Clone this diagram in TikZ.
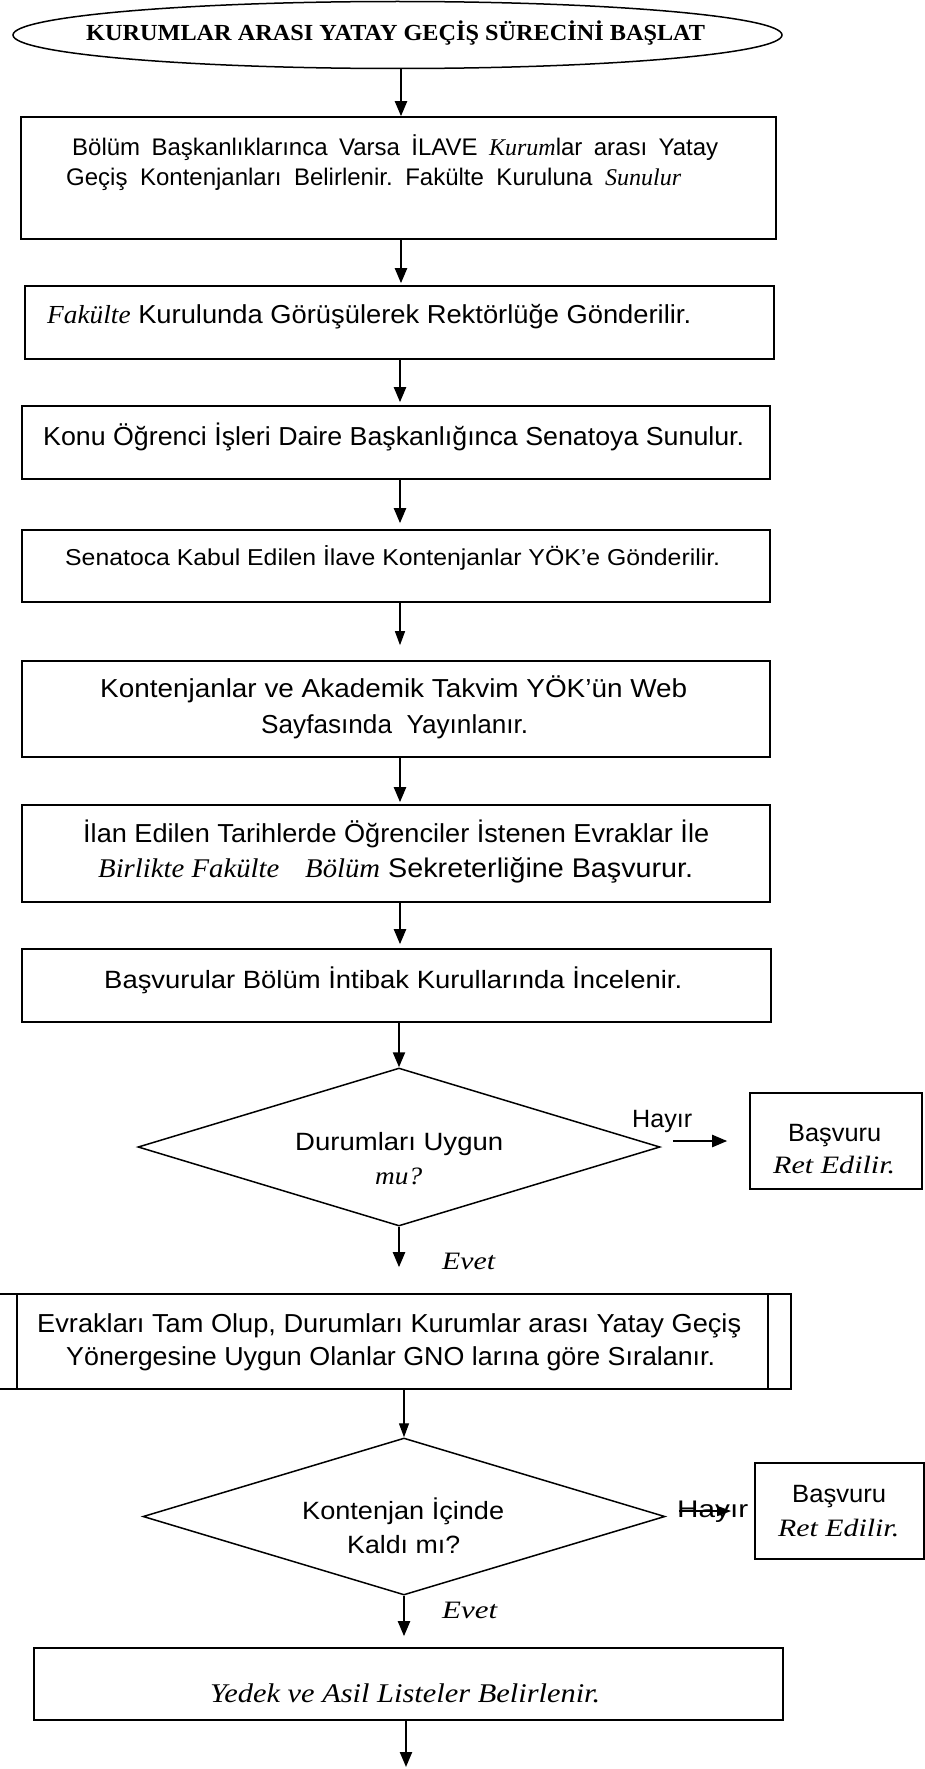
\documentclass[tikz,border=0pt]{standalone}
\usepackage{fontspec}
\setmainfont{Liberation Sans}
\newfontfamily\tnr{Liberation Serif}
\usepackage{graphicx}
\usetikzlibrary{shapes.geometric,arrows.meta}
\newcommand\hfit[3]{\resizebox{#1}{\height}{\fontsize{#2}{#2}\selectfont #3}}
\newcommand\ti[1]{{\tnr\itshape #1}}
\frenchspacing
\begin{document}
\begin{tikzpicture}[x=1pt,y=-1pt,
  box/.style={draw,line width=1.6pt,inner sep=0pt},
  ell/.style={draw,ellipse,line width=1.5pt,inner sep=0pt},
  dia/.style={draw,diamond,line width=1.5pt,inner sep=0pt},
  txt/.style={inner sep=0pt,anchor=base west},
  arr/.style={-{Triangle[length=15pt,width=12pt]},line width=2.2pt},
  tarr/.style={-{Triangle[length=14pt,width=10pt]},line width=1.3pt}]
\useasboundingbox (0,0) rectangle (925,1769);

\coordinate (colA) at (401,0);
\coordinate (colB) at (400,0);
\coordinate (fin) at (406,1767);

% start
\node[ell,minimum width=769pt,minimum height=67pt] (start) at (397.5,35) {};
\node[txt] (tstart) at (86,41) {\hfit{619pt}{23}{\tnr\bfseries KURUMLAR ARASI YATAY GEÇİŞ SÜRECİNİ BAŞLAT}};

% box 1
\node[box,minimum width=755pt,minimum height=122pt] (b1) at (398.5,178) {};
\node[txt] (t1a) at (72,155) {\fontsize{24}{24}\selectfont\makebox[646pt][s]{Bölüm Başkanlıklarınca Varsa İLAVE \ti{Kurum}lar arası Yatay}};
\node[txt] (t1b) at (66,185) {\fontsize{24}{24}\selectfont\makebox[615pt][s]{Geçiş Kontenjanları Belirlenir. Fakülte Kuruluna \ti{Sunulur}}};

% box 2
\node[box,minimum width=749pt,minimum height=73pt] (b2) at (399.5,322.5) {};
\node[txt] (t2) at (47,323) {\hfit{644pt}{26}{\ti{Fakülte} Kurulunda Görüşülerek Rektörlüğe Gönderilir.}};

% box 3
\node[box,minimum width=748pt,minimum height=73pt] (b3) at (396,442.5) {};
\node[txt] (t3) at (43,445) {\hfit{701pt}{26}{Konu Öğrenci İşleri Daire Başkanlığınca Senatoya Sunulur.}};

% box 4
\node[box,minimum width=748pt,minimum height=72pt] (b4) at (396,566) {};
\node[txt] (t4) at (65,565) {\hfit{655pt}{23}{Senatoca Kabul Edilen İlave Kontenjanlar YÖK’e Gönderilir.}};

% box 5
\node[box,minimum width=748pt,minimum height=96pt] (b5) at (396,709) {};
\node[txt] (t5a) at (100,697) {\hfit{587pt}{26}{Kontenjanlar ve Akademik Takvim YÖK’ün Web}};
\node[txt] (t5b) at (261,733) {\hfit{267pt}{26}{Sayfasında\ \ Yayınlanır.}};

% box 6
\node[box,minimum width=748pt,minimum height=97pt] (b6) at (396,853.5) {};
\node[txt] (t6a) at (83,842) {\hfit{626pt}{26}{İlan Edilen Tarihlerde Öğrenciler İstenen Evraklar İle}};
\node[txt] (t6b) at (98,877) {\hfit{595pt}{27}{\ti{Birlikte Fakülte}\hspace{0.9em}\ti{Bölüm} Sekreterliğine Başvurur.}};

% box 7
\node[box,minimum width=749pt,minimum height=73pt] (b7) at (396.5,985.5) {};
\node[txt] (t7) at (104,988) {\hfit{578pt}{25}{Başvurular Bölüm İntibak Kurullarında İncelenir.}};

% decision 1
\node[dia,minimum width=522pt,minimum height=158pt] (d1) at (399,1147) {};
\node[txt] (td1a) at (295,1150) {\hfit{208pt}{25}{Durumları Uygun}};
\node[txt] (td1b) at (375,1184) {\hfit{47pt}{25}{\ti{mu?}}};
\node[txt] (h1) at (632,1127) {\hfit{60pt}{25}{Hayır}};
\node[box,minimum width=172pt,minimum height=96pt] (r1) at (836,1141) {};
\node[txt] (r1a) at (788,1141) {\hfit{93pt}{25}{Başvuru}};
\node[txt] (r1b) at (773,1173) {\hfit{122pt}{25}{\ti{Ret Edilir.}}};
\node[txt] (e1) at (442,1269) {\hfit{53pt}{25}{\ti{Evet}}};

% box 8 (double sided)
\node[box,minimum width=797pt,minimum height=95pt] (b8) at (392.5,1341.5) {};
\draw[line width=1.6pt] ([xshift=24pt]b8.north west) -- ([xshift=24pt]b8.south west);
\draw[line width=1.6pt] ([xshift=-24pt]b8.north east) -- ([xshift=-24pt]b8.south east);
\node[txt] (t8a) at (37,1332) {\hfit{704pt}{26}{Evrakları Tam Olup, Durumları Kurumlar arası Yatay Geçiş}};
\node[txt] (t8b) at (66,1365) {\hfit{649pt}{26}{Yönergesine Uygun Olanlar GNO larına göre Sıralanır.}};

% decision 2
\node[dia,minimum width=522pt,minimum height=157pt] (d2) at (404,1516.5) {};
\node[txt] (td2a) at (302,1519) {\hfit{202pt}{25}{Kontenjan İçinde}};
\node[txt] (td2b) at (347,1553) {\hfit{113pt}{25}{Kaldı mı?}};
\node[txt] (h2) at (677,1517) {\hfit{71pt}{24}{Hayır}};
\node[box,minimum width=169pt,minimum height=96pt] (r2) at (839.5,1511) {};
\node[txt] (r2a) at (792,1502) {\hfit{94pt}{25}{Başvuru}};
\node[txt] (r2b) at (778,1536) {\hfit{121pt}{25}{\ti{Ret Edilir.}}};
\node[txt] (e2) at (442,1618) {\hfit{55pt}{25}{\ti{Evet}}};

% box 9
\node[box,minimum width=749pt,minimum height=72pt] (b9) at (408.5,1684) {};
\node[txt] (t9) at (210,1702) {\hfit{390pt}{27}{\ti{Yedek ve Asil Listeler Belirlenir.}}};

% connectors
\draw[arr] (start.south -| colA) -- (b1.north -| colA);
\draw[arr,shorten >=2pt] (b1.south -| colA) -- (b2.north -| colA);
\draw[arr,shorten >=3pt] (b2.south -| colB) -- (b3.north -| colB);
\draw[arr,shorten >=6pt] (b3.south -| colB) -- (b4.north -| colB);
\draw[tarr,shorten >=15pt] (b4.south -| colB) -- (b5.north -| colB);
\draw[arr,shorten >=2pt] (b5.south -| colB) -- (b6.north -| colB);
\draw[arr,shorten >=4pt] (b6.south -| colB) -- (b7.north -| colB);
\draw[arr] (b7.south -| d1.north) -- (d1.north);
\draw[arr,shorten <=12pt,shorten >=22pt] (d1.east |- r1.west) -- (r1.west);
\draw[arr,shorten >=26pt] (d1.south) -- (b8.north -| d1.south);
\draw[tarr] (b8.south -| d2.north) -- (d2.north);
\draw[tarr,shorten <=13pt,shorten >=23pt] (d2.east |- r2.west) -- (r2.west);
\draw[arr,shorten >=11pt] (d2.south) -- (b9.north -| d2.south);
\draw[arr] (b9.south -| fin) -- (fin);
\end{tikzpicture}
\end{document}
